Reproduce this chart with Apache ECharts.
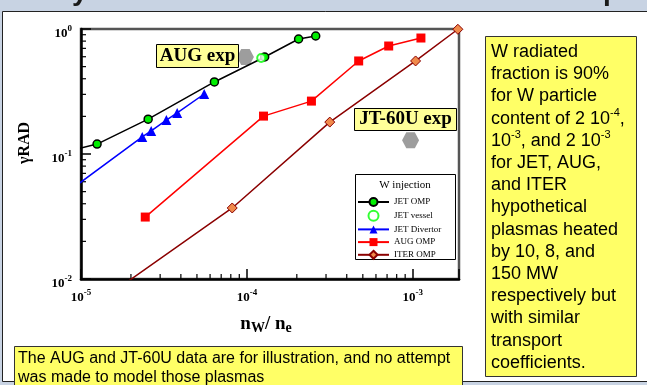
<!DOCTYPE html>
<html><head><meta charset="utf-8">
<script src="https://cdn.jsdelivr.net/npm/echarts@6/dist/echarts.min.js"></script>
<style>html,body{margin:0;padding:0;background:#c8d3e3;}#c{width:647px;height:385px;}</style>
</head><body><div id="c"></div>
<script>
// ---- data ----
const seriesNames = ['JET OMP', 'JET vessel', 'JET Divertor', 'AUG OMP', 'ITER OMP'];
// first point of some series lies outside the frame: the line leaves the plot there
const jetOmpX = [8e-6, 1.25e-5, 2.54e-5, 6.37e-5, 1.28e-4, 2.05e-4, 2.6e-4];
const jetOmpY = [0.104, 0.120, 0.19, 0.377, 0.597, 0.832, 0.879];
const jetVesselX = [1.22e-4];
const jetVesselY = [0.586];
const jetDivX = [8e-6, 2.34e-5, 2.65e-5, 3.27e-5, 3.80e-5, 5.53e-5];
const jetDivY = [0.048, 0.137, 0.153, 0.187, 0.213, 0.302];
const augX = [2.44e-5, 1.26e-4, 2.45e-4, 4.72e-4, 7.16e-4, 1.12e-3];
const augY = [0.0313, 0.201, 0.265, 0.555, 0.731, 0.847];
const iterX = [1.5e-5, 8.16e-5, 3.16e-4, 1.04e-3, 1.87e-3];
const iterY = [0.0076, 0.037, 0.180, 0.555, 0.995];
const expX = [9.8e-5, 9.7e-4];   // AUG exp, JT-60U exp markers
const expY = [0.597, 0.129];
const xMin = 1e-5, xMax = 1.9e-3, yMin = 0.01, yMax = 1;
const xMinorTicks = [2e-5,3e-5,4e-5,5e-5,6e-5,7e-5,8e-5,9e-5,2e-4,3e-4,4e-4,5e-4,6e-4,7e-4,8e-4,9e-4];
const yMinorTicks = [0.02,0.03,0.04,0.05,0.06,0.07,0.08,0.09,0.2,0.3,0.4,0.5,0.6,0.7,0.8,0.9];

function pts(xs, ys) {
  return xs.map((x, i) => {
    const inside = x >= xMin && x <= xMax && ys[i] >= yMin && ys[i] <= yMax;
    return inside ? [x, ys[i]] : { value: [x, ys[i]], symbol: 'none' };
  });
}
function powLabel(v) {
  const e = Math.log10(v);
  if (Math.abs(e - Math.round(e)) > 1e-6) return '';
  return '{b|10}{s|' + Math.round(e) + '}';
}
const labelRich = {
  b: { fontFamily: 'Liberation Serif', fontWeight: 'bold', fontSize: 13, lineHeight: 20, color: '#000' },
  s: { fontFamily: 'Liberation Serif', fontWeight: 'bold', fontSize: 9, lineHeight: 10, verticalAlign: 'top', color: '#000' }
};
const serif = 'Liberation Serif', sans = 'Liberation Sans';

const chart = echarts.init(document.getElementById('c'));
chart.setOption({
  backgroundColor: '#c8d3e3',
  animation: false,
  grid: { left: 81, top: 29, right: 188, bottom: 106, show: true, borderColor: '#555', borderWidth: 2.5, backgroundColor: 'transparent' },
  xAxis: {
    type: 'log', logBase: 10, min: xMin, max: xMax,
    axisLine: { lineStyle: { color: '#000', width: 2.5 } },
    axisTick: { inside: true, length: 10, lineStyle: { color: '#000', width: 1.5 } },
    splitLine: { show: false },
    axisLabel: { margin: 9, formatter: powLabel, rich: labelRich, showMinLabel: true, showMaxLabel: true }
  },
  yAxis: {
    type: 'log', logBase: 10, min: yMin, max: yMax,
    axisLine: { lineStyle: { color: '#000', width: 2.5 } },
    axisTick: { inside: true, length: 10, lineStyle: { color: '#000', width: 1.5 } },
    splitLine: { show: false },
    axisLabel: { margin: 9, formatter: powLabel, rich: labelRich, padding: [10, 0, 0, 0] }
  },
  legend: {
    data: seriesNames, orient: 'vertical', left: 357, top: 197,
    itemWidth: 31, itemHeight: 10, itemGap: 2.7, padding: 0,
    textStyle: { fontFamily: serif, fontSize: 9, color: '#000', lineHeight: 10 },
    inactiveColor: '#000'
  },
  series: [
    { name: 'ITER OMP', type: 'line', data: pts(iterX, iterY), symbol: 'diamond', symbolSize: 10,
      lineStyle: { color: '#8b0000', width: 1.5 }, itemStyle: { color: '#f08a4b', borderColor: '#8b0000', borderWidth: 1 }, z: 3 },
    { name: 'AUG OMP', type: 'line', data: pts(augX, augY), symbol: 'rect', symbolSize: 9,
      lineStyle: { color: '#ff0000', width: 1.5 }, itemStyle: { color: '#ff0000' }, z: 3 },
    { name: 'JET Divertor', type: 'line', data: pts(jetDivX, jetDivY), symbol: 'triangle', symbolSize: 10,
      lineStyle: { color: '#0000ff', width: 1.5 }, itemStyle: { color: '#0000ff' }, z: 3 },
    { name: 'JET OMP', type: 'line', data: pts(jetOmpX, jetOmpY), symbol: 'circle', symbolSize: 8,
      lineStyle: { color: '#000', width: 1.5 }, itemStyle: { color: '#00ee00', borderColor: '#000', borderWidth: 1.5 }, z: 4 },
    { name: 'JET vessel', type: 'scatter', data: pts(jetVesselX, jetVesselY), symbol: 'circle', symbolSize: 8,
      itemStyle: { color: '#fff', borderColor: '#00ff00', borderWidth: 2 }, z: 5 },
    { name: 'exp', type: 'scatter', data: pts(expX, expY),
      symbol: 'path://M-1,0 L-0.5,-0.9 L0.5,-0.9 L1,0 L0.5,0.9 L-0.5,0.9 Z', symbolSize: [17, 16],
      itemStyle: { color: '#858585' }, z: 2, silent: true },
    { type: 'custom', silent: true, clip: false, data: xMinorTicks.map(v => [v, yMin]),
      renderItem: (p, api) => { const c = api.coord([api.value(0), api.value(1)]);
        return { type: 'line', shape: { x1: c[0], y1: c[1], x2: c[0], y2: c[1] - 5 }, style: { stroke: '#000', lineWidth: 1.2 } }; } },
    { type: 'custom', silent: true, clip: false, data: yMinorTicks.map(v => [xMin, v]),
      renderItem: (p, api) => { const c = api.coord([api.value(0), api.value(1)]);
        return { type: 'line', shape: { x1: c[0], y1: c[1], x2: c[0] + 5, y2: c[1] }, style: { stroke: '#000', lineWidth: 1.2 } }; } }
  ],
  graphic: [
    { type: 'rect', z: -100, shape: { x: 2.5, y: 11.5, width: 700, height: 370 }, style: { fill: '#fff', stroke: '#222', lineWidth: 1 } },
    { type: 'text', z: 10, left: 72, top: -22, style: { text: 'y', fontFamily: sans, fontWeight: 'bold', fontSize: 28, fill: '#1a1a1a' } },
    { type: 'text', z: 10, left: 603, top: -22, style: { text: 'p', fontFamily: sans, fontWeight: 'bold', fontSize: 28, fill: '#1a1a1a' } },
    // axis names
    { type: 'text', z: 10, x: 25, y: 143, rotation: Math.PI / 2,
      style: { text: 'γRAD', fontFamily: serif, fontWeight: 'bold', fontSize: 16, fill: '#000', align: 'center', verticalAlign: 'middle' } },
    { type: 'text', z: 10, x: 266, y: 324,
      style: { text: 'n{s|W}/ n{s|e}', fontFamily: serif, fontWeight: 'bold', fontSize: 19, fill: '#000', align: 'center', verticalAlign: 'middle',
        rich: { s: { fontFamily: serif, fontWeight: 'bold', fontSize: 14, fill: '#000', padding: [8, 0, 0, 0] } } } },
    // legend box
    { type: 'rect', z: -1, shape: { x: 355.5, y: 174.5, width: 100, height: 85 }, style: { fill: '#fff', stroke: '#000', lineWidth: 1 } },
    { type: 'text', z: 10, x: 405, y: 185, style: { text: 'W injection', fontFamily: serif, fontSize: 11, fill: '#000', align: 'center', verticalAlign: 'middle' } },
    // annotation labels
    { type: 'rect', z: 50, shape: { x: 156.5, y: 44.5, width: 82, height: 23 }, style: { fill: '#ffff99', stroke: '#000', lineWidth: 1 } },
    { type: 'text', z: 51, x: 197.5, y: 56.5, style: { text: 'AUG exp', fontFamily: serif, fontWeight: 'bold', fontSize: 19, fill: '#000', align: 'center', verticalAlign: 'middle' } },
    { type: 'rect', z: 50, shape: { x: 354.5, y: 108.5, width: 102, height: 22 }, style: { fill: '#ffff99', stroke: '#000', lineWidth: 1 } },
    { type: 'text', z: 51, x: 405.5, y: 119.5, style: { text: 'JT-60U exp', fontFamily: serif, fontWeight: 'bold', fontSize: 19, fill: '#000', align: 'center', verticalAlign: 'middle' } },
    // right text box
    { type: 'rect', z: 50, shape: { x: 485.5, y: 36.5, width: 151, height: 340 }, style: { fill: '#ffff66', stroke: '#333', lineWidth: 1 } },
    { type: 'text', z: 51, x: 491, y: 41,
      style: { text: 'W radiated\nfraction is 90%\nfor W particle\ncontent of 2 10{s|-4},\n10{s|-3}, and 2 10{s|-3}\nfor JET, AUG,\nand ITER\nhypothetical\nplasmas heated\nby 10, 8, and\n150 MW\nrespectively but\nwith similar\ntransport\ncoefficients.',
        fontFamily: sans, fontSize: 18, lineHeight: 22.2, fill: '#000', verticalAlign: 'top',
        rich: { s: { fontFamily: sans, fontSize: 11, lineHeight: 13, verticalAlign: 'top', fill: '#000' } } } },
    // bottom text box
    { type: 'rect', z: 50, shape: { x: 14.5, y: 346.5, width: 448, height: 50 }, style: { fill: '#ffff66', stroke: '#333', lineWidth: 1 } },
    { type: 'text', z: 51, x: 18, y: 349,
      style: { text: 'The AUG and JT-60U data are for illustration, and no attempt\nwas made to model those plasmas',
        fontFamily: sans, fontSize: 16, lineHeight: 19, fill: '#000', verticalAlign: 'top' } }
  ]
});
</script></body></html>
